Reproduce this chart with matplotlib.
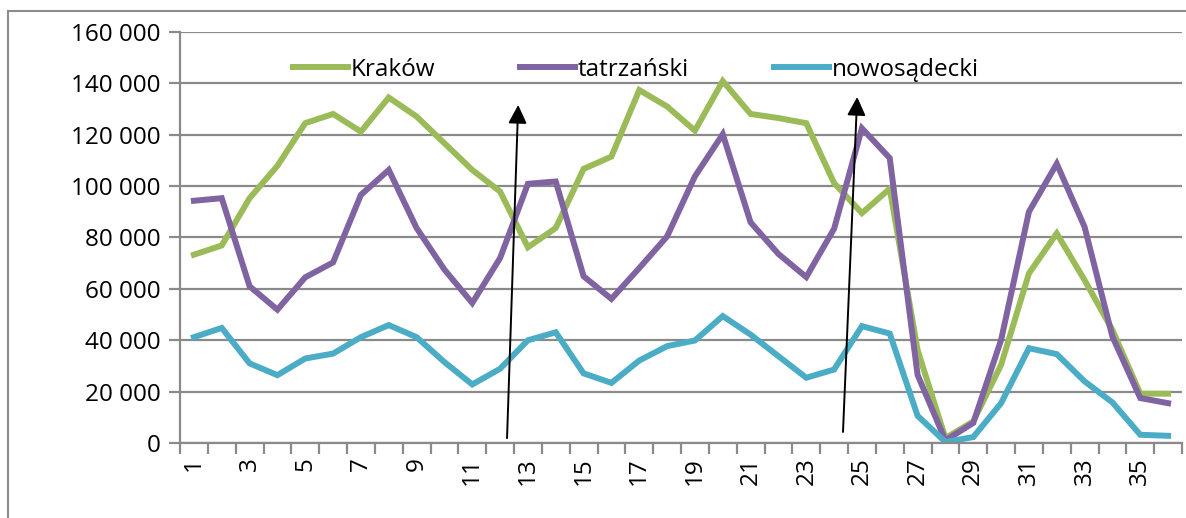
import numpy as np
import matplotlib.pyplot as plt
from matplotlib.patches import Rectangle
from matplotlib.ticker import FuncFormatter

# --- data ---
months = list(range(1, 37))
krakow = [73300, 76900, 95300, 107900, 124500, 128100, 121200, 134500, 127100,
          116700, 106300, 97900, 76200, 83700, 106700, 111500, 137400, 131000,
          121600, 140900, 128100, 126500, 124500, 101200, 89500, 99000, 36200,
          1900, 8400, 30400, 66000, 81600, 63400, 44000, 19200, 19200]
tatrzanski = [94300, 95300, 61000, 51900, 64500, 70300, 96600, 106300, 83700,
              67500, 54500, 72000, 100900, 101800, 64900, 56100, 68100, 80400,
              103800, 120200, 85900, 73600, 64600, 83400, 122500, 110900, 26500,
              1000, 7800, 40100, 90000, 108700, 84100, 41400, 17500, 15500]
nowosadecki = [41200, 44800, 31000, 26400, 32900, 34800, 41200, 45900, 41200,
               31500, 22800, 28900, 40000, 43100, 27100, 23400, 32100, 37700,
               39900, 49400, 42200, 33800, 25400, 28600, 45500, 42600, 10600,
               400, 2300, 15500, 36900, 34600, 24000, 15800, 3200, 2800]
series = [("Kraków", krakow, "#9BBB59"),
          ("tatrzański", tatrzanski, "#8064A2"),
          ("nowosądecki", nowosadecki, "#4BACC6")]

# hand-drawn arrows (start x, start y, end x, end y) in data units
arrows = [(12.25, 1900, 12.65, 131600),
          (24.32, 4300, 24.83, 134700)]

plt.rcParams['font.family'] = ['Open Sans', 'DejaVu Sans']
fs = 17.5

fig = plt.figure(figsize=(11.86, 5.18), dpi=100)
# outer chart frame (runs off the right and bottom edges)
fig.patches.append(Rectangle((8 / 1186, -0.1), 1.2, 1 - 11 / 518 + 0.1,
                             transform=fig.transFigure, fill=False,
                             edgecolor="#8c8c8c", lw=1.5))

ax = fig.add_axes([180 / 1186, 1 - 443 / 518, 1002 / 1186, 411 / 518])

for name, vals, col in series:
    ax.plot(months, vals, color=col, lw=4.3, label=name, solid_joinstyle='miter')

for x0, y0, x1, y1 in arrows:
    ax.annotate("", xy=(x1, y1), xytext=(x0, y0),
                arrowprops=dict(arrowstyle="-|>", color="black", lw=1.4,
                                mutation_scale=28, shrinkA=0, shrinkB=0))

ax.set_xlim(0.5, 36.5)
ax.set_ylim(0, 160000)
ax.set_yticks(np.arange(0, 160001, 20000))
ax.yaxis.set_major_formatter(FuncFormatter(lambda v, p: f"{int(v):,}".replace(",", " ")))
ax.set_xticks(np.arange(0.5, 37, 1))
ax.set_xticklabels([])
ax.set_xticks(months, [str(m) if m % 2 else "" for m in months], minor=True)

ax.grid(axis='y', color="#8a8a8a", lw=1.6)
ax.set_axisbelow(True)
for s in ['top', 'right']:
    ax.spines[s].set_visible(False)
for s in ['left', 'bottom']:
    ax.spines[s].set_color("#8a8a8a")
    ax.spines[s].set_linewidth(1.6)

ax.tick_params(axis='y', which='major', length=8, width=1.6, color="#8a8a8a",
               labelsize=fs, pad=6)
ax.tick_params(axis='x', which='major', length=8, width=1.6, color="#8a8a8a")
ax.tick_params(axis='x', which='minor', length=0, labelsize=fs, labelrotation=90, pad=10)

ax.legend(loc='center', bbox_to_anchor=(0.455, 0.908), ncol=3, frameon=False,
          fontsize=fs, handlelength=2.26, handletextpad=0.12, columnspacing=3.5,
          borderaxespad=0)

fig.savefig("out.png", dpi=100)
